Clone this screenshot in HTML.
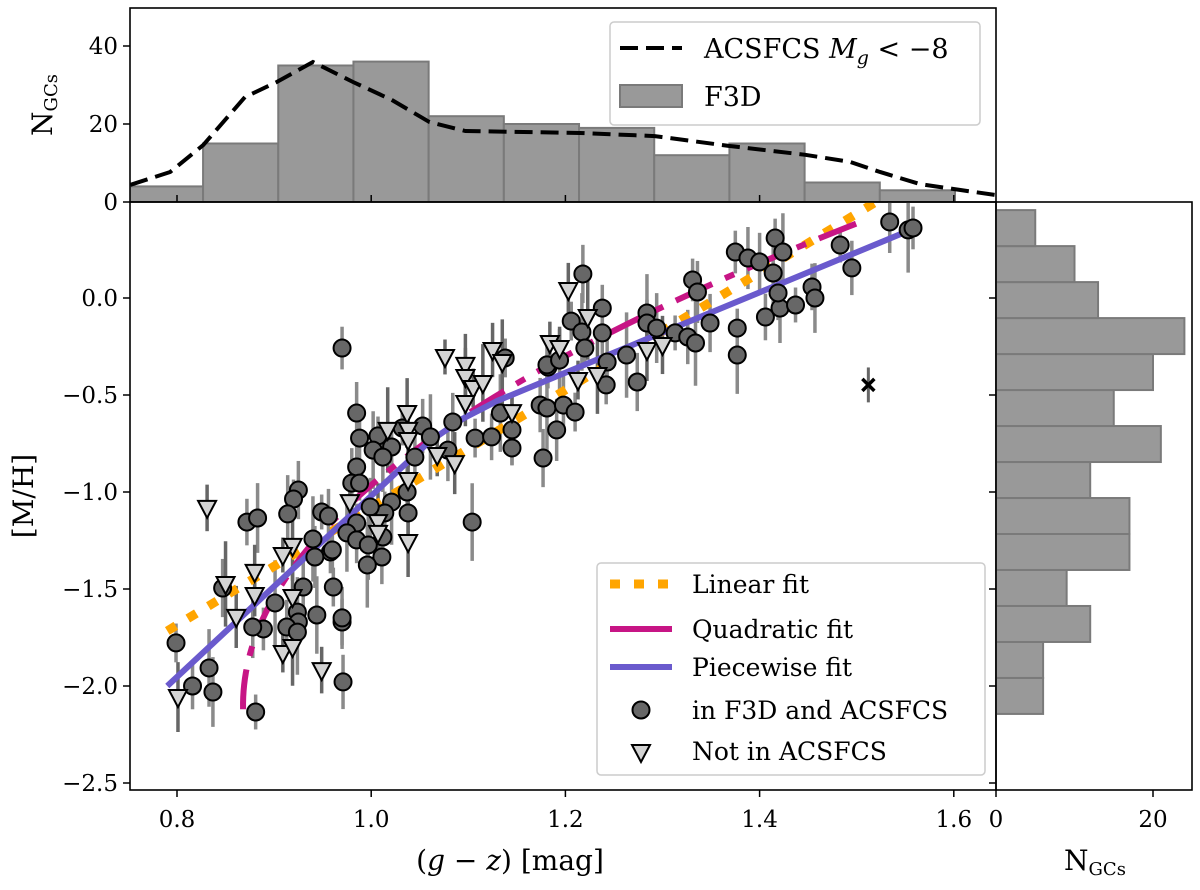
<!DOCTYPE html>
<html><head><meta charset="utf-8"><style>
html,body{margin:0;padding:0;background:#fff;}
svg{display:block;font-family:"DejaVu Serif","Liberation Serif",serif;}
</style></head><body>
<svg id="chart" width="1200" height="890" viewBox="0 0 1200 890" xmlns="http://www.w3.org/2000/svg">
<g id="gTop"></g>
<g id="gMain"></g>
<g id="gRight"></g>
</svg>
<script>
// ---- data ----
const topBinStart = 0.7494, topBinWidth = 0.07744;
const topCounts = [4,15,35,36,22,20,19,12,15,5,3];
const kdeX = [0.752,0.793,0.827,0.870,0.903,0.940,0.981,1.021,1.060,1.097,1.215,1.292,1.368,1.447,1.493,1.524,1.565,1.606,1.643];
const kdeY = [4.4,7.7,14.6,26.9,30.8,35.9,30.8,26.2,20.5,18.2,17.7,16.9,14.4,12.1,10.3,7.7,4.6,3.1,1.8];
const rightBinStart = -2.144, rightBinWidth = 0.1855;
const rightCounts = [6,6,12,9,17,17,12,21,15,20,24,13,10,5];
const circX = [0.925,0.920,0.914,0.872,0.883,0.949,0.956,0.940,0.958,0.942,0.930,0.961,0.944,0.970,0.924,0.925,0.913,0.924,0.889,0.878,0.847,0.799,0.833,0.816,0.837,0.881,0.971,0.901,
0.970,0.985,0.988,1.007,1.002,1.021,1.012,1.032,1.053,1.061,1.045,1.079,1.084,1.107,1.133,1.124,1.145,1.145,1.174,1.181,1.182,1.191,1.177,1.138,1.104,0.985,0.980,0.988,1.037,1.021,1.014,1.038,0.999,0.985,0.975,0.985,0.997,1.012,1.011,0.996,0.960,0.970,
1.218,1.206,1.217,1.238,1.238,1.220,1.243,1.263,1.181,1.194,1.274,1.242,1.284,1.284,1.294,1.313,1.326,1.334,1.331,1.336,1.349,1.377,1.377,1.406,1.421,1.437,1.419,1.414,1.375,1.388,1.400,1.416,1.424,1.454,1.457,1.483,1.495,1.553,1.558,1.534,1.198,1.210];
const circY = [-0.990,-1.036,-1.113,-1.155,-1.134,-1.103,-1.124,-1.242,-1.309,-1.335,-1.490,-1.490,-1.634,-1.670,-1.619,-1.670,-1.696,-1.722,-1.706,-1.696,-1.495,-1.778,-1.907,-2.0,-2.031,-2.134,-1.979,-1.572,
-0.258,-0.593,-0.722,-0.711,-0.784,-0.768,-0.820,-0.670,-0.660,-0.716,-0.820,-0.784,-0.639,-0.722,-0.593,-0.716,-0.680,-0.773,-0.552,-0.567,-0.356,-0.680,-0.825,-0.309,-1.155,-0.871,-0.954,-0.954,-1.0,-1.052,-1.108,-1.108,-1.077,-1.160,-1.211,-1.247,-1.273,-1.232,-1.335,-1.376,-1.299,-1.649,
0.124,-0.119,-0.175,-0.052,-0.180,-0.258,-0.330,-0.294,-0.345,-0.320,-0.433,-0.448,-0.077,-0.129,-0.155,-0.180,-0.201,-0.232,0.093,0.031,-0.129,-0.155,-0.294,-0.098,-0.052,-0.036,0.026,0.129,0.237,0.206,0.186,0.309,0.237,0.057,0.0,0.273,0.155,0.351,0.361,0.392,-0.552,-0.588];
const triX = [0.831,0.919,0.909,0.880,0.850,0.880,0.861,0.919,0.909,0.919,0.949,0.801,1.076,1.125,1.135,1.184,1.097,1.097,1.105,1.115,1.097,1.037,1.038,1.038,1.017,1.068,1.086,1.038,0.978,1.007,1.007,1.038,1.145,1.203,1.223,1.194,1.284,1.300,1.213,1.233];
const triY = [-1.082,-1.278,-1.325,-1.412,-1.474,-1.531,-1.644,-1.541,-1.830,-1.799,-1.918,-2.057,-0.304,-0.268,-0.330,-0.232,-0.345,-0.407,-0.464,-0.438,-0.541,-0.593,-0.680,-0.732,-0.680,-0.809,-0.851,-0.938,-1.052,-1.155,-1.211,-1.258,-0.588,0.041,-0.098,-0.258,-0.268,-0.242,-0.423,-0.397];
const errCycle = [0.15,0.1,0.2,0.12,0.18,0.09,0.14,0.22,0.11,0.16];
const linA = 3.03, linB = -1.686, linX0 = 0.8, linRange = [0.79,1.52];
const quadVertexX = 0.868, quadVertexY = -2.1, quadK = 0.1024, quadYRange = [-2.12,0.40];
const pwX = [0.790,1.060,1.095,1.130,1.560];
const pwY = [-2.0,-0.74,-0.62,-0.53,0.36];
const outlierX = 1.512, outlierY = -0.448;
const xTicks = [0.8,1.0,1.2,1.4,1.6];
const yTicks = [0.0,-0.5,-1.0,-1.5,-2.0,-2.5];
const topYTicks = [0,20,40];
const rightXTicks = [0,20];

// ---- axes ----
const L=130,R=996,MT=202,MB=790,TT=8,RR=1192;
const xs = v => 177 + (v-0.8)*971;
const ys = v => 298 - v*194;
const tys = v => 202 - v*3.9;
const rxs = v => 996 + v*7.85;
const NS="http://www.w3.org/2000/svg";
function mk(parent,tag,attrs){const e=document.createElementNS(NS,tag);for(const k in attrs)e.setAttribute(k,attrs[k]);parent.appendChild(e);return e;}
function txt(parent,x,y,s,size,anchor){const t=mk(parent,'text',{x:x,y:y,'font-size':size,'text-anchor':anchor||'middle',fill:'#000'});t.textContent=s;return t;}
const gT=document.getElementById('gTop'),gM=document.getElementById('gMain'),gR=document.getElementById('gRight');
const svg=document.getElementById('chart');
mk(svg,'defs',{}).innerHTML='<clipPath id="cT"><rect x="130" y="8" width="866" height="194"/></clipPath><clipPath id="cM"><rect x="130" y="202" width="866" height="588"/></clipPath><clipPath id="cR"><rect x="996" y="202" width="196" height="588"/></clipPath>';

// top histogram
const tb=mk(gT,'g',{'clip-path':'url(#cT)'});
topCounts.forEach((c,i)=>{const x0=xs(topBinStart+i*topBinWidth),x1=xs(topBinStart+(i+1)*topBinWidth);
 const r=mk(tb,'rect',{x:x0,y:tys(c),width:x1-x0,height:tys(0)-tys(c),fill:'#999',stroke:'#7a7a7a','stroke-width':2});
 
 });
const kd=mk(tb,'polyline',{points:kdeX.map((x,i)=>xs(x)+','+tys(kdeY[i])).join(' '),fill:'none',stroke:'#000','stroke-width':4,'stroke-dasharray':'18 8'});


mk(gT,'rect',{x:L,y:TT,width:R-L,height:MT-TT,fill:'none',stroke:'#000','stroke-width':1.6});
topYTicks.forEach(v=>{mk(gT,'line',{x1:L-7,x2:L,y1:tys(v),y2:tys(v),stroke:'#000','stroke-width':1.5});txt(gT,L-12,tys(v)+8,String(v),23,'end');});
xTicks.forEach(v=>{mk(gT,'line',{x1:xs(v),x2:xs(v),y1:MT,y2:MT-7,stroke:'#000','stroke-width':1.5});});
const tyl=txt(gT,0,0,'',28,'middle');tyl.setAttribute('transform','translate(52,105) rotate(-90)');
tyl.innerHTML='N<tspan font-size="18" dy="5">GCs</tspan>';

// top legend
const tl=mk(gT,'g',{});
mk(tl,'rect',{x:610,y:22,width:370,height:103,rx:4,fill:'#fff','fill-opacity':0.85,stroke:'#ccc','stroke-width':1.5});
mk(tl,'line',{x1:620,x2:682,y1:48,y2:48,stroke:'#000','stroke-width':4,'stroke-dasharray':'18 8'});
const t1=txt(tl,704,58,'',27,'start');t1.innerHTML='ACSFCS <tspan font-style="italic">M</tspan><tspan font-style="italic" font-size="19" dy="6">g</tspan><tspan dy="-6"> &lt; −8</tspan>';
mk(tl,'rect',{x:620,y:85,width:62,height:22,fill:'#999',stroke:'#7a7a7a','stroke-width':2});
txt(tl,704,106,'F3D',27,'start');

// main panel
const mb=mk(gM,'g',{'clip-path':'url(#cM)'});
circX.forEach((x,i)=>{const e=errCycle[i%errCycle.length];const l=mk(mb,'line',{x1:xs(x),x2:xs(x),y1:ys(circY[i]+e),y2:ys(circY[i]-e),stroke:'#8a8a8a','stroke-width':3.5});
 
 });
triX.forEach((x,i)=>{const e=errCycle[(i+3)%errCycle.length];const l=mk(mb,'line',{x1:xs(x),x2:xs(x),y1:ys(triY[i]+e),y2:ys(triY[i]-e),stroke:'#666','stroke-width':3.5});
 
 });
mk(mb,'line',{x1:xs(outlierX),x2:xs(outlierX),y1:ys(outlierY+0.09),y2:ys(outlierY-0.09),stroke:'#666','stroke-width':3});
// fits
let lp=[];for(let k=0;k<=1;k++){const x=linRange[0]+k*(linRange[1]-linRange[0]);lp.push(xs(x)+','+ys(linA*(x-linX0)+linB));}
const lin=mk(mb,'polyline',{points:lp.join(' '),fill:'none',stroke:'#FFA500','stroke-width':9,'stroke-dasharray':'10 14'});


let qp=[];for(let k=0;k<=80;k++){const m=quadYRange[0]+k*(quadYRange[1]-quadYRange[0])/80;qp.push(xs(quadVertexX+quadK*Math.pow(m-quadVertexY,2))+','+ys(m));}
const qd=mk(mb,'polyline',{points:qp.join(' '),fill:'none',stroke:'#C71585','stroke-width':6,'stroke-dasharray':'40 14 10 14'});


const pw=mk(mb,'polyline',{points:pwX.map((x,i)=>xs(x)+','+ys(pwY[i])).join(' '),fill:'none',stroke:'#6A5ACD','stroke-width':6,'stroke-linejoin':'round'});


circX.forEach((x,i)=>{const c=mk(mb,'circle',{cx:xs(x),cy:ys(circY[i]),r:8.5,fill:'#676767',stroke:'#000','stroke-width':2});
 
 });
triX.forEach((x,i)=>{const cx=xs(x),cy=ys(triY[i]);const p=mk(mb,'polygon',{points:`${cx-9},${cy-7} ${cx+9},${cy-7} ${cx},${cy+10}`,fill:'#d3d3d3',stroke:'#000','stroke-width':2});
 
 });
const ox=xs(outlierX),oy=ys(outlierY);
const om=mk(mb,'path',{d:`M${ox-6},${oy-6}L${ox+6},${oy+6}M${ox-6},${oy+6}L${ox+6},${oy-6}`,stroke:'#000','stroke-width':3.5});


mk(gM,'rect',{x:L,y:MT,width:R-L,height:MB-MT,fill:'none',stroke:'#000','stroke-width':1.6});
xTicks.forEach(v=>{mk(gM,'line',{x1:xs(v),x2:xs(v),y1:MB,y2:MB+7,stroke:'#000','stroke-width':1.5});txt(gM,xs(v),MB+37,v.toFixed(1),23,'middle');});
yTicks.forEach(v=>{mk(gM,'line',{x1:L-7,x2:L,y1:ys(v),y2:ys(v),stroke:'#000','stroke-width':1.5});mk(gM,'line',{x1:R-7,x2:R,y1:ys(v),y2:ys(v),stroke:'#000','stroke-width':1.5});
 txt(gM,L-12,ys(v)+8,(v<0?'−':'')+Math.abs(v).toFixed(1),23,'end');});
const xl=txt(gM,510,870,'',28,'middle');xl.innerHTML='(<tspan font-style="italic">g</tspan> − <tspan font-style="italic">z</tspan>) [mag]';

const yl=txt(gM,0,0,'[M/H]',28,'middle');yl.setAttribute('transform','translate(33,496) rotate(-90)');

// main legend
const ml=mk(gM,'g',{});
mk(ml,'rect',{x:597,y:563,width:388,height:212,rx:4,fill:'#fff','fill-opacity':0.85,stroke:'#ccc','stroke-width':1.5});
mk(ml,'line',{x1:610,x2:672,y1:584,y2:584,stroke:'#FFA500','stroke-width':9,'stroke-dasharray':'10 14'});
txt(ml,692,593,'Linear fit',25,'start');
mk(ml,'line',{x1:610,x2:672,y1:629,y2:629,stroke:'#C71585','stroke-width':6});
txt(ml,692,638,'Quadratic fit',25,'start');
mk(ml,'line',{x1:610,x2:672,y1:667,y2:667,stroke:'#6A5ACD','stroke-width':6});
txt(ml,692,676,'Piecewise fit',25,'start');
mk(ml,'circle',{cx:641,cy:710,r:8.5,fill:'#676767',stroke:'#000','stroke-width':2});
txt(ml,692,719,'in F3D and ACSFCS',25,'start');
mk(ml,'polygon',{points:'632,745 650,745 641,762',fill:'#d3d3d3',stroke:'#000','stroke-width':2});
txt(ml,692,760,'Not in ACSFCS',25,'start');

// right histogram
const rb=mk(gR,'g',{'clip-path':'url(#cR)'});
rightCounts.forEach((c,i)=>{const y0=ys(rightBinStart+i*rightBinWidth),y1=ys(rightBinStart+(i+1)*rightBinWidth);
 const r=mk(rb,'rect',{x:rxs(0),y:y1,width:rxs(c)-rxs(0),height:y0-y1,fill:'#999',stroke:'#7a7a7a','stroke-width':2});
 
 });
mk(gR,'rect',{x:R,y:MT,width:RR-R,height:MB-MT,fill:'none',stroke:'#000','stroke-width':1.6});
rightXTicks.forEach(v=>{mk(gR,'line',{x1:rxs(v),x2:rxs(v),y1:MB,y2:MB+7,stroke:'#000','stroke-width':1.5});txt(gR,rxs(v),MB+37,String(v),23,'middle');});
const rl=txt(gR,1095,870,'',28,'middle');rl.innerHTML='N<tspan font-size="18" dy="5">GCs</tspan>';

</script>
</body></html>
